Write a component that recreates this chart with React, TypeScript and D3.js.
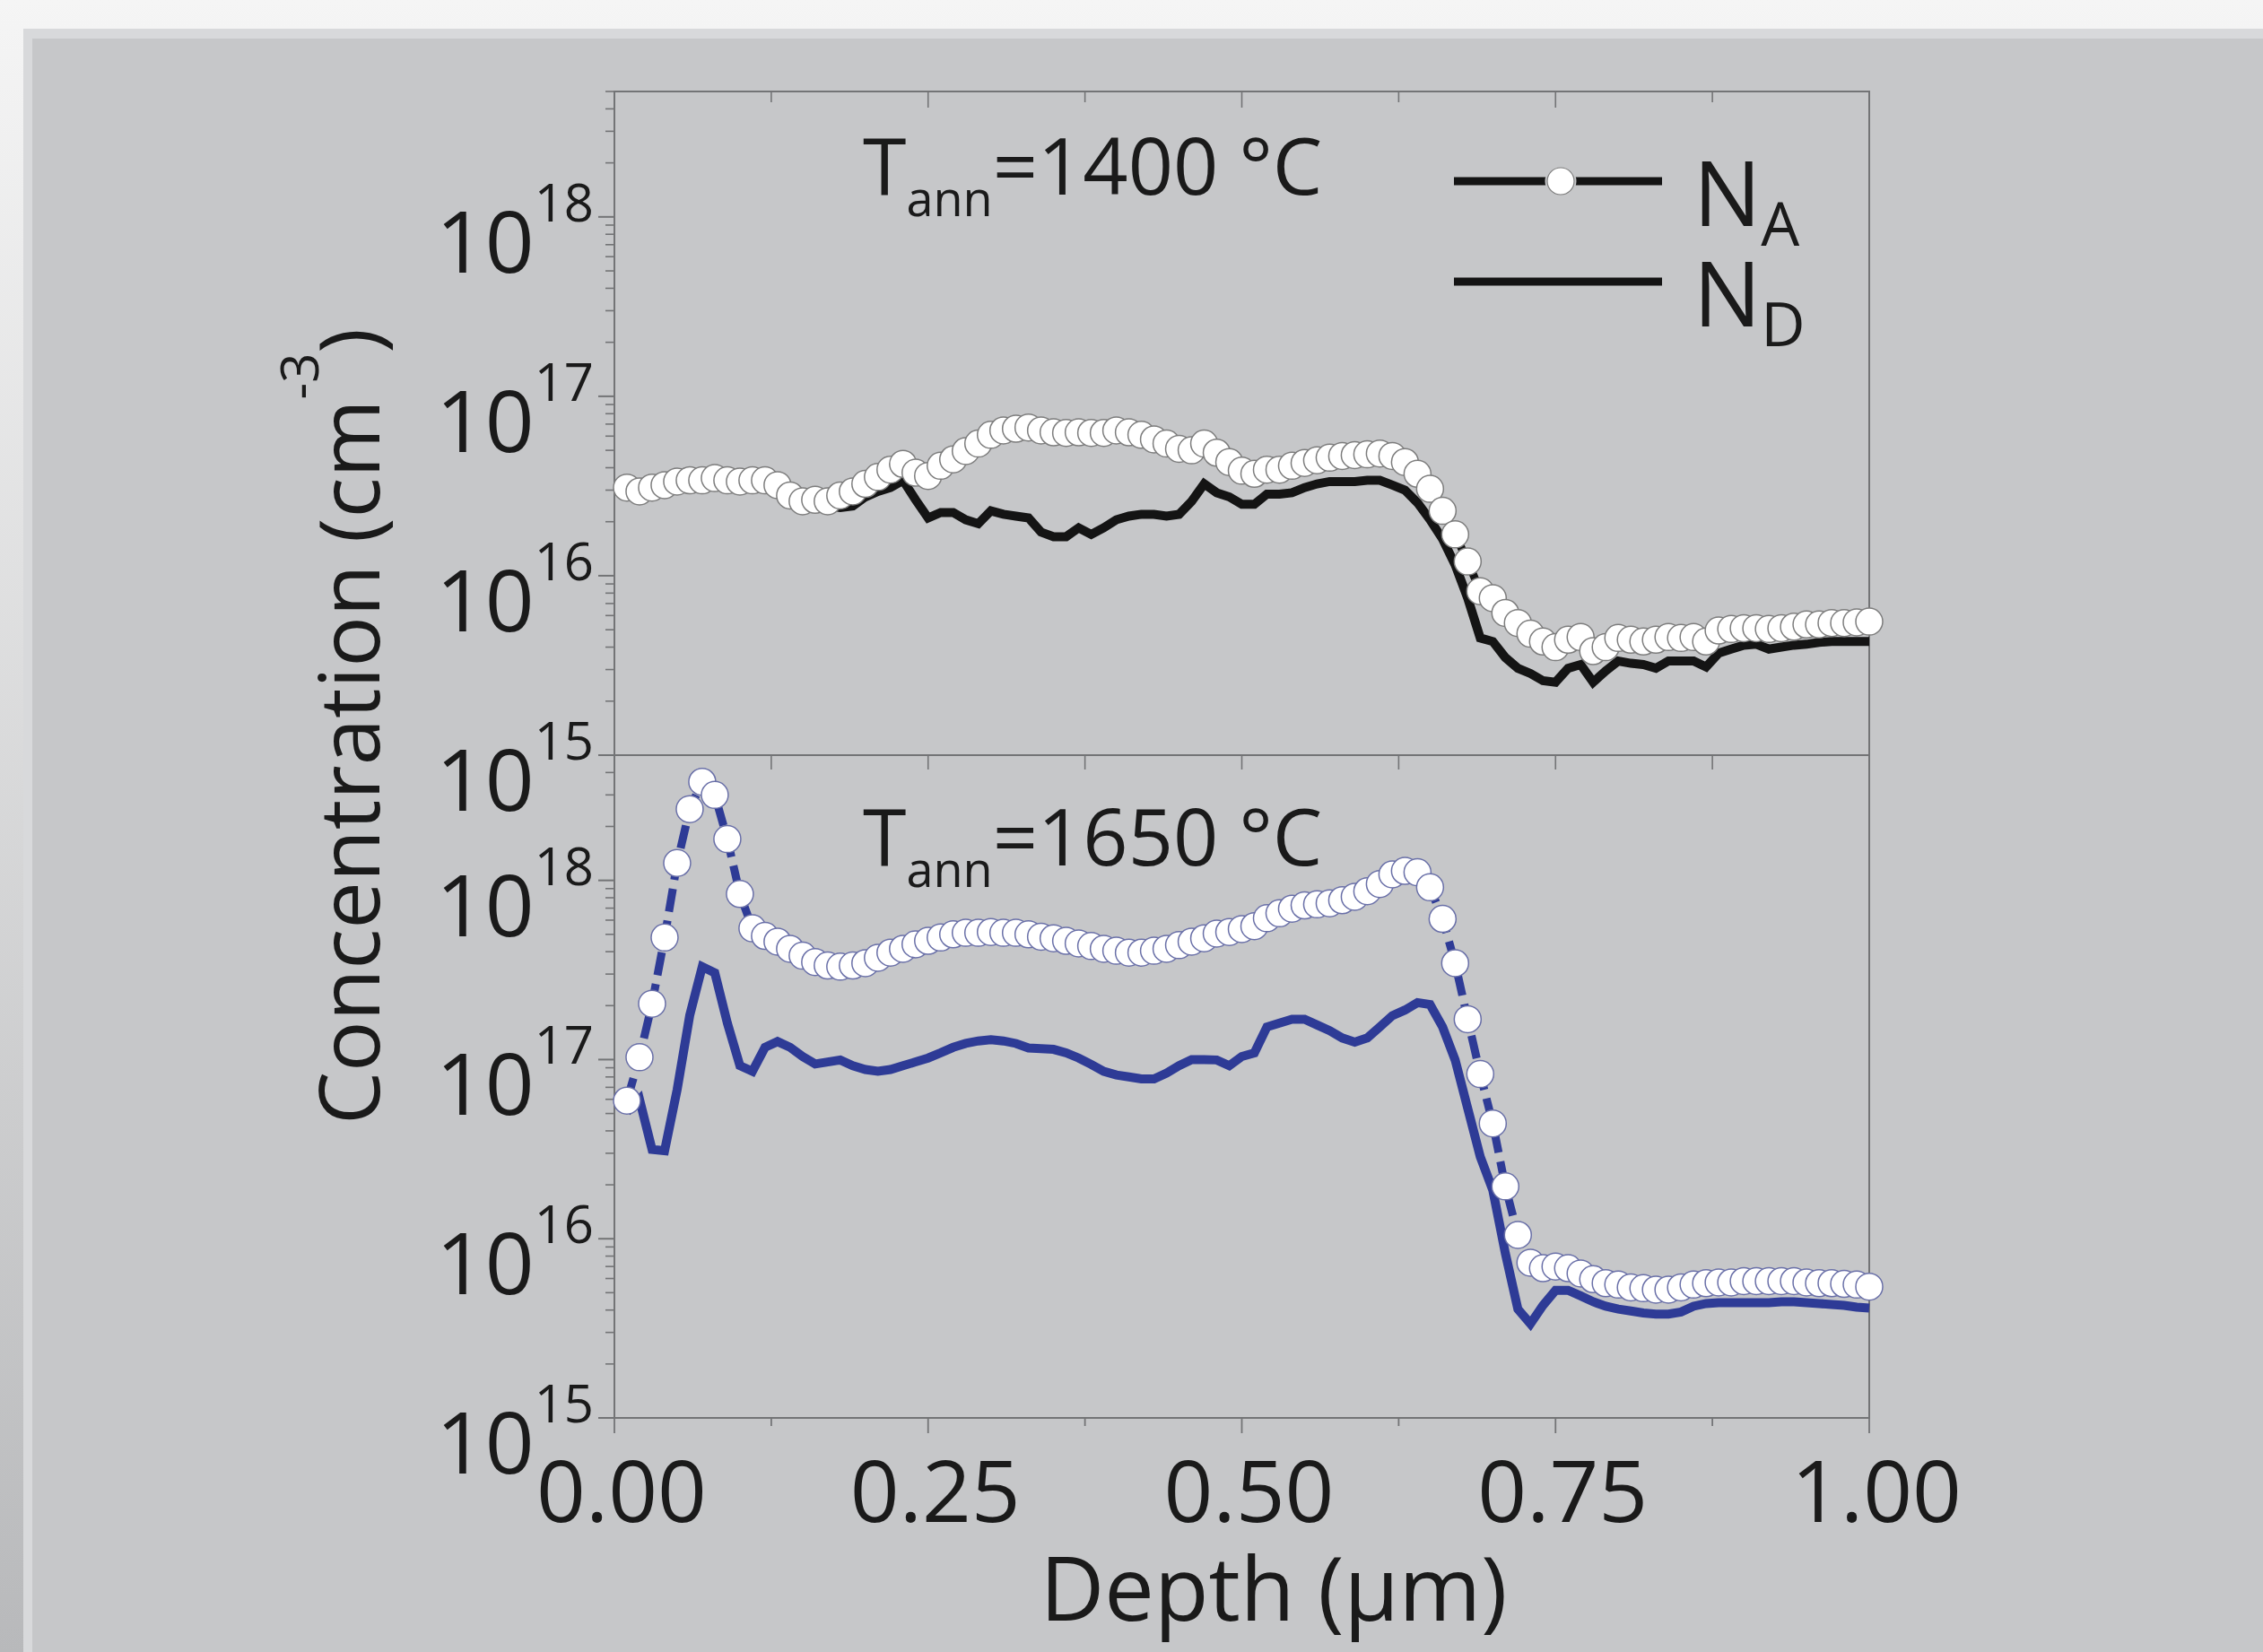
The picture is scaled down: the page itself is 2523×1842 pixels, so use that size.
import React from "react";
import * as d3 from "d3";

// depth grid (µm), shared by all four profiles
const depth = [
  0.01, 0.02, 0.03, 0.04, 0.05, 0.06, 0.07, 0.08, 0.09, 0.1,
  0.11, 0.12, 0.13, 0.14, 0.15, 0.16, 0.17, 0.18, 0.19, 0.2,
  0.21, 0.22, 0.23, 0.24, 0.25, 0.26, 0.27, 0.28, 0.29, 0.3,
  0.31, 0.32, 0.33, 0.34, 0.35, 0.36, 0.37, 0.38, 0.39, 0.4,
  0.41, 0.42, 0.43, 0.44, 0.45, 0.46, 0.47, 0.48, 0.49, 0.5,
  0.51, 0.52, 0.53, 0.54, 0.55, 0.56, 0.57, 0.58, 0.59, 0.6,
  0.61, 0.62, 0.63, 0.64, 0.65, 0.66, 0.67, 0.68, 0.69, 0.7,
  0.71, 0.72, 0.73, 0.74, 0.75, 0.76, 0.77, 0.78, 0.79, 0.8,
  0.81, 0.82, 0.83, 0.84, 0.85, 0.86, 0.87, 0.88, 0.89, 0.9,
  0.91, 0.92, 0.93, 0.94, 0.95, 0.96, 0.97, 0.98, 0.99, 1.0,
];

// Tann = 1400 °C
const naTop = [
  3.1e16, 2.95e16, 3.1e16, 3.2e16, 3.35e16, 3.4e16, 3.4e16, 3.5e16, 3.4e16, 3.35e16,
  3.4e16, 3.4e16, 3.2e16, 2.8e16, 2.6e16, 2.65e16, 2.6e16, 2.8e16, 2.95e16, 3.25e16,
  3.55e16, 3.9e16, 4.2e16, 3.75e16, 3.6e16, 4.1e16, 4.45e16, 4.95e16, 5.45e16, 6.1e16,
  6.45e16, 6.6e16, 6.7e16, 6.45e16, 6.3e16, 6.25e16, 6.3e16, 6.25e16, 6.25e16, 6.45e16,
  6.3e16, 6.1e16, 5.75e16, 5.45e16, 5.1e16, 5.0e16, 5.45e16, 4.85e16, 4.3e16, 3.85e16,
  3.7e16, 3.9e16, 3.9e16, 4.1e16, 4.25e16, 4.4e16, 4.55e16, 4.65e16, 4.7e16, 4.75e16,
  4.8e16, 4.65e16, 4.3e16, 3.7e16, 3.05e16, 2.3e16, 1.7e16, 1.2e16, 8.2e15, 7.5e15,
  6.2e15, 5.45e15, 4.75e15, 4.3e15, 4.0e15, 4.4e15, 4.55e15, 3.8e15, 4.0e15, 4.5e15,
  4.4e15, 4.3e15, 4.4e15, 4.55e15, 4.5e15, 4.55e15, 4.3e15, 4.95e15, 5.05e15, 5.1e15,
  5.1e15, 5.05e15, 5.1e15, 5.2e15, 5.35e15, 5.35e15, 5.45e15, 5.45e15, 5.5e15, 5.55e15,
];
const ndTop = [
  2.95e16, 2.85e16, 3.0e16, 3.1e16, 3.2e16, 3.3e16, 3.3e16, 3.35e16, 3.3e16, 3.25e16,
  3.3e16, 3.3e16, 3.1e16, 2.7e16, 2.5e16, 2.5e16, 2.45e16, 2.4e16, 2.45e16, 2.75e16,
  2.95e16, 3.1e16, 3.4e16, 2.65e16, 2.1e16, 2.25e16, 2.25e16, 2.05e16, 1.95e16, 2.3e16,
  2.2e16, 2.15e16, 2.1e16, 1.75e16, 1.65e16, 1.65e16, 1.85e16, 1.7e16, 1.85e16, 2.05e16,
  2.15e16, 2.2e16, 2.2e16, 2.15e16, 2.2e16, 2.6e16, 3.25e16, 2.9e16, 2.75e16, 2.5e16,
  2.5e16, 2.85e16, 2.85e16, 2.9e16, 3.1e16, 3.25e16, 3.35e16, 3.35e16, 3.35e16, 3.4e16,
  3.4e16, 3.2e16, 3.0e16, 2.55e16, 2.05e16, 1.6e16, 1.15e16, 7.5e15, 4.5e15, 4.3e15,
  3.5e15, 3.05e15, 2.85e15, 2.6e15, 2.55e15, 3.05e15, 3.2e15, 2.55e15, 2.95e15, 3.35e15,
  3.25e15, 3.2e15, 3.05e15, 3.35e15, 3.35e15, 3.35e15, 3.1e15, 3.7e15, 3.9e15, 4.1e15,
  4.15e15, 3.9e15, 4.0e15, 4.1e15, 4.15e15, 4.25e15, 4.3e15, 4.3e15, 4.3e15, 4.3e15,
];

// Tann = 1650 °C
const naBottom = [
  5.9e16, 1.03e17, 2.05e17, 4.8e17, 1.25e18, 2.5e18, 3.55e18, 3.0e18, 1.7e18, 8.4e17,
  5.4e17, 4.9e17, 4.55e17, 4.15e17, 3.8e17, 3.5e17, 3.35e17, 3.3e17, 3.35e17, 3.45e17,
  3.7e17, 3.95e17, 4.15e17, 4.4e17, 4.6e17, 4.8e17, 5.0e17, 5.1e17, 5.1e17, 5.15e17,
  5.1e17, 5.1e17, 5.0e17, 4.85e17, 4.75e17, 4.6e17, 4.45e17, 4.3e17, 4.15e17, 4.05e17,
  3.95e17, 3.95e17, 4.05e17, 4.15e17, 4.35e17, 4.55e17, 4.75e17, 5.05e17, 5.15e17, 5.35e17,
  5.55e17, 6.15e17, 6.55e17, 6.95e17, 7.25e17, 7.35e17, 7.45e17, 7.75e17, 8.1e17, 8.7e17,
  9.55e17, 1.08e18, 1.13e18, 1.11e18, 9.15e17, 6.1e17, 3.45e17, 1.68e17, 8.3e16, 4.4e16,
  1.96e16, 1.05e16, 7.35e15, 6.85e15, 7.0e15, 6.85e15, 6.4e15, 5.95e15, 5.65e15, 5.55e15,
  5.35e15, 5.3e15, 5.2e15, 5.2e15, 5.35e15, 5.55e15, 5.65e15, 5.7e15, 5.7e15, 5.8e15,
  5.8e15, 5.8e15, 5.8e15, 5.8e15, 5.7e15, 5.65e15, 5.65e15, 5.6e15, 5.55e15, 5.4e15,
];
const ndBottom = [
  5.1e16, 6.0e16, 3.15e16, 3.1e16, 6.8e16, 1.76e17, 3.3e17, 3.05e17, 1.6e17, 9.25e16,
  8.6e16, 1.17e17, 1.26e17, 1.17e17, 1.04e17, 9.45e16, 9.7e16, 9.95e16, 9.25e16, 8.8e16,
  8.6e16, 8.8e16, 9.25e16, 9.7e16, 1.02e17, 1.09e17, 1.17e17, 1.23e17, 1.27e17, 1.29e17,
  1.27e17, 1.23e17, 1.16e17, 1.15e17, 1.14e17, 1.09e17, 1.02e17, 9.4e16, 8.6e16, 8.2e16,
  8.0e16, 7.8e16, 7.8e16, 8.4e16, 9.25e16, 1.0e17, 1.0e17, 9.95e16, 9.25e16, 1.04e17,
  1.09e17, 1.52e17, 1.6e17, 1.68e17, 1.68e17, 1.56e17, 1.45e17, 1.32e17, 1.25e17, 1.32e17,
  1.52e17, 1.76e17, 1.89e17, 2.08e17, 2.03e17, 1.52e17, 9.95e16, 5.35e16, 2.87e16, 1.87e16,
  8.3e15, 4.05e15, 3.35e15, 4.25e15, 5.15e15, 5.15e15, 4.8e15, 4.45e15, 4.2e15, 4.05e15,
  3.95e15, 3.85e15, 3.8e15, 3.8e15, 3.9e15, 4.2e15, 4.35e15, 4.4e15, 4.4e15, 4.4e15,
  4.4e15, 4.4e15, 4.45e15, 4.45e15, 4.4e15, 4.35e15, 4.3e15, 4.25e15, 4.15e15, 4.1e15,
];

const xMajorTicks = [0, 0.25, 0.5, 0.75, 1];
const xMinorTicks = [0.125, 0.375, 0.625, 0.875];
const xTickLabels = ["0.00", "0.25", "0.50", "0.75", "1.00"];
const decades = [1e15, 1e16, 1e17, 1e18];
const exponents = ["15", "16", "17", "18"];

const W = 2523;
const H = 1842;
const left = 685;
const right = 2084;
const top = 102;
const mid = 842;
const bottom = 1581;
const font = "'Open Sans', 'DejaVu Sans', sans-serif";
const axisColor = "#737476";
const blue = "#2e3b96";

const x = d3.scaleLinear().domain([0, 1]).range([left, right]);

function Panel({ y, na, nd, color, dashed, title, y0, y1, titleY, circleStroke }) {
  const line = d3
    .line()
    .x((d, i) => x(depth[i]))
    .y((d) => y(d));
  const minor = y.ticks().filter((t) => Math.abs(Math.log10(t) - Math.round(Math.log10(t))) > 1e-6);

  return (
    <g>
      {/* y axis ticks */}
      {decades.map((d) => (
        <line key={"M" + d} x1={left - 18} x2={left} y1={y(d)} y2={y(d)} stroke={axisColor} strokeWidth={2} />
      ))}
      {minor.map((d) => (
        <line key={"m" + d} x1={left - 10} x2={left} y1={y(d)} y2={y(d)} stroke={axisColor} strokeWidth={1.6} />
      ))}
      {decades.map((d, i) => (
        <text key={"l" + d} x={662} y={y(d) + 62} textAnchor="end" fontFamily={font} fontSize={96} fill="#1a1a1a">
          10
          <tspan dy={-57} fontSize={58}>{exponents[i]}</tspan>
        </text>
      ))}
      <rect x={left} y={y1} width={right - left} height={y0 - y1} fill="none" stroke={axisColor} strokeWidth={2} />

      {/* title */}
      <text x={962} y={titleY} fontFamily={font} fontSize={88} fill="#1a1a1a">
        T
        <tspan dy={24} fontSize={54}>ann</tspan>
        <tspan dy={-24}>={title} °C</tspan>
      </text>

      {/* data */}
      <path
        d={line(na)}
        fill="none"
        stroke={color}
        strokeWidth={9}
        strokeDasharray={dashed ? "26 10" : null}
      />
      <path d={line(nd)} fill="none" stroke={color} strokeWidth={10} />
      {na.map((v, i) => (
        <circle key={i} cx={x(depth[i])} cy={y(v)} r={15} fill="#ffffff" stroke={circleStroke} strokeWidth={1.5} />
      ))}
    </g>
  );
}

export default function App() {
  const yTop = d3.scaleLog().domain([1e15, 5e18]).range([mid, top]);
  const yBot = d3.scaleLog().domain([1e15, 5e18]).range([bottom, mid]);

  return (
    <svg
      width={W}
      height={H}
      style={{ position: "absolute", left: 0, top: 0, display: "block" }}
    >
      <defs>
        <linearGradient id="bg" x1="0" y1="0" x2="0" y2="1">
          <stop offset="0" stopColor="#f5f5f5" />
          <stop offset="1" stopColor="#b8b9bb" />
        </linearGradient>
      </defs>
      <rect x={0} y={0} width={W} height={H} fill="url(#bg)" />
      <rect x={26} y={32} width={W - 26} height={H - 32} fill="#d8d9db" />
      <rect x={36} y={43} width={W - 36} height={H - 43} fill="#c6c7c9" />

      <Panel
        y={yTop}
        na={naTop}
        nd={ndTop}
        color="#141414"
        dashed={false}
        title="1400"
        y0={mid}
        y1={top}
        titleY={217}
        circleStroke="#7d7d7d"
      />
      <Panel
        y={yBot}
        na={naBottom}
        nd={ndBottom}
        color={blue}
        dashed={true}
        title="1650"
        y0={bottom}
        y1={mid}
        titleY={965}
        circleStroke="#6a70a8"
      />

      {/* x ticks: top frame (inward), middle, bottom (outward) */}
      {xMajorTicks.concat(xMinorTicks).map((t) => (
        <g key={"xt" + t}>
          <line x1={x(t)} x2={x(t)} y1={top} y2={top + (xMajorTicks.includes(t) ? 18 : 12)} stroke={axisColor} strokeWidth={1.6} />
          <line x1={x(t)} x2={x(t)} y1={mid} y2={mid + 16} stroke={axisColor} strokeWidth={1.6} />
          <line x1={x(t)} x2={x(t)} y1={bottom} y2={bottom + (xMajorTicks.includes(t) ? 17 : 9)} stroke={axisColor} strokeWidth={1.8} />
        </g>
      ))}
      {xMajorTicks.map((t, i) => (
        <text key={"xl" + t} x={x(t) + 8} y={1697} textAnchor="middle" fontFamily={font} fontSize={96} fill="#1a1a1a">
          {xTickLabels[i]}
        </text>
      ))}
      <text x={1420} y={1807} textAnchor="middle" fontFamily={font} fontSize={99} fill="#1a1a1a">
        Depth (µm)
      </text>
      <text
        transform="translate(423,810) rotate(-90)"
        textAnchor="middle"
        fontFamily={font}
        fontSize={94}
        fill="#1a1a1a"
      >
        Concentration (cm
        <tspan dy={-68} fontSize={58}>-3</tspan>
        <tspan dy={68}>)</tspan>
      </text>

      {/* legend */}
      <line x1={1621} x2={1853} y1={202} y2={202} stroke="#141414" strokeWidth={9} />
      <circle cx={1740} cy={202} r={16} fill="#ffffff" stroke="#c6c7c9" strokeWidth={3} />
      <circle cx={1740} cy={202} r={15} fill="#ffffff" stroke="#7d7d7d" strokeWidth={1.2} />
      <line x1={1621} x2={1853} y1={314} y2={314} stroke="#141414" strokeWidth={9} />
      <text x={1888} y={252} fontFamily={font} fontSize={100} fill="#1a1a1a">
        N<tspan dy={22} fontSize={68}>A</tspan>
      </text>
      <text x={1888} y={364} fontFamily={font} fontSize={100} fill="#1a1a1a">
        N<tspan dy={22} fontSize={68}>D</tspan>
      </text>
    </svg>
  );
}
